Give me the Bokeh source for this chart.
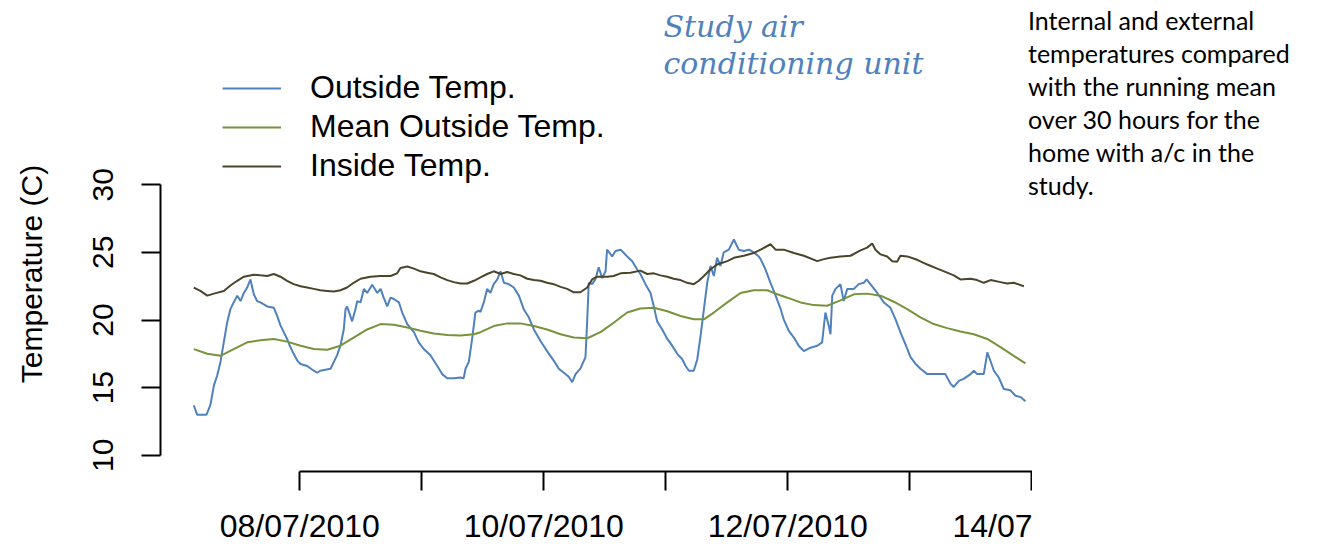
from bokeh.plotting import figure
from bokeh.models import Range1d, FixedTicker, Label, Div, Legend, LegendItem
from bokeh.layouts import row
from bokeh.embed import file_html
from bokeh.resources import INLINE

# time in hours since 07/07/2010 00:00
outside_hours = [
    3.15, 3.8, 5.65, 6.4, 7.1, 7.75, 8.4, 9.05, 9.7, 10.35,
    11.0, 11.7, 12.35, 13.0, 13.65, 14.3, 14.95, 15.6, 16.25, 17.6,
    18.9, 19.55, 20.2, 20.85, 21.5, 22.15, 22.8, 23.5, 24.15, 25.45,
    26.75, 27.4, 28.05, 30.05, 30.7, 31.35, 32.0, 32.65, 33.0, 33.3,
    33.95, 34.3, 34.95, 35.3, 35.95, 36.6, 37.25, 38.25, 39.25, 39.9,
    40.5, 41.2, 41.85, 42.5, 43.5, 44.15, 45.15, 46.45, 47.4, 48.4,
    49.7, 51.05, 52.0, 53.0, 54.3, 55.6, 56.25, 56.6, 57.25, 57.9,
    58.55, 59.2, 59.55, 60.2, 60.85, 61.5, 62.15, 62.85, 63.5, 64.15,
    65.1, 66.1, 67.1, 68.05, 69.05, 70.05, 71.35, 72.65, 73.95, 74.95,
    75.95, 76.9, 77.6, 78.25, 79.2, 80.2, 80.55, 80.85, 81.5, 82.15,
    82.8, 83.5, 84.15, 84.45, 85.45, 86.1, 87.1, 87.75, 88.4, 89.4,
    90.35, 91.0, 92.0, 93.0, 93.65, 94.3, 95.3, 96.3, 97.25, 98.25,
    99.25, 99.9, 100.55, 101.5, 102.2, 102.85, 103.5, 104.15, 104.8, 105.45,
    106.1, 106.75, 107.4, 108.4, 109.4, 110.35, 111.35, 112.35, 113.3, 114.3,
    114.65, 115.6, 116.6, 117.6, 118.6, 119.2, 120.2, 121.2, 122.15, 123.15,
    124.45, 125.8, 126.75, 127.4, 128.05, 128.4, 128.75, 129.4, 130.35, 131.0,
    131.7, 133.0, 133.95, 134.95, 135.5, 136.25, 137.6, 138.9, 140.2, 141.2,
    142.15, 143.15, 144.15, 145.15, 146.1, 147.45, 149.4, 151.0, 152.0, 152.65,
    153.65, 154.6, 155.95, 156.6, 157.25, 158.55, 159.25, 159.75, 160.55, 161.5,
    162.5, 163.8, 164.8, 165.8, 166.75,
]
outside_temp = [
    13.7, 13.0, 13.0, 13.7, 15.15, 15.9, 16.9, 18.35, 19.8, 20.8,
    21.3, 21.8, 21.4, 22.0, 22.4, 23.0, 21.9, 21.4, 21.3, 21.0,
    20.9, 20.3, 19.6, 19.1, 18.6, 18.0, 17.5, 17.0, 16.75, 16.6,
    16.25, 16.1, 16.25, 16.4, 16.9, 17.4, 18.1, 19.3, 20.8, 21.0,
    20.3, 19.9, 20.8, 21.4, 21.3, 22.3, 22.0, 22.6, 22.0, 22.3,
    21.65, 21.0, 21.65, 21.55, 21.3, 20.55, 19.7, 19.1, 18.35, 17.85,
    17.4, 16.6, 16.0, 15.7, 15.7, 15.75, 15.7, 16.4, 16.9, 18.6,
    20.55, 20.7, 20.6, 21.3, 22.3, 22.0, 22.65, 23.0, 23.6, 22.75,
    22.65, 22.4, 21.8, 20.8, 20.2, 19.3, 18.45, 17.7, 17.0, 16.4,
    16.1, 15.8, 15.4, 16.0, 16.4, 17.25, 20.05, 22.75, 22.65, 23.0,
    23.9, 23.1, 23.6, 25.2, 24.7, 25.1, 25.2, 24.95, 24.7, 24.35,
    23.75, 23.4, 22.65, 22.0, 21.0, 19.9, 19.3, 18.6, 18.1, 17.5,
    17.1, 16.6, 16.25, 16.25, 17.1, 18.85, 20.8, 22.75, 24.0, 23.25,
    24.6, 24.0, 25.0, 25.2, 25.95, 25.2, 25.1, 25.2, 25.0, 24.7,
    24.5, 23.75, 22.75, 21.8, 20.8, 20.05, 19.2, 18.7, 18.1, 17.7,
    17.95, 18.1, 18.35, 20.55, 19.6, 18.95, 21.8, 22.3, 22.65, 21.4,
    22.3, 22.3, 22.65, 22.75, 23.0, 22.65, 22.0, 21.3, 20.9, 20.05,
    19.1, 18.2, 17.25, 16.75, 16.4, 16.0, 16.0, 16.0, 15.3, 15.05,
    15.5, 15.65, 16.0, 16.25, 16.0, 16.0, 17.6, 17.1, 16.25, 15.75,
    14.9, 14.8, 14.4, 14.3, 14.0,
]

mean_hours = [
    3.15, 5.8, 8.4, 11.0, 13.65, 16.25, 18.9, 21.5, 24.15, 26.75,
    29.4, 32.0, 34.6, 37.25, 39.9, 42.5, 45.15, 47.75, 50.35, 53.0,
    55.6, 58.25, 59.55, 62.15, 64.8, 67.4, 70.05, 72.65, 75.3, 77.9,
    80.55, 83.15, 85.75, 88.4, 91.0, 93.65, 96.3, 98.9, 101.5, 103.5,
    105.45, 108.1, 110.7, 113.3, 115.95, 117.25, 119.9, 122.5, 125.1, 127.75,
    130.35, 133.0, 135.6, 138.25, 140.85, 143.5, 146.1, 148.7, 151.35, 153.95,
    156.6, 159.25, 161.85, 164.45, 166.75,
]
mean_temp = [
    17.85, 17.5, 17.35, 17.85, 18.35, 18.5, 18.6, 18.4, 18.1, 17.85,
    17.8, 18.1, 18.7, 19.3, 19.7, 19.65, 19.45, 19.2, 19.0, 18.9,
    18.85, 18.95, 19.1, 19.55, 19.75, 19.75, 19.55, 19.3, 18.95, 18.7,
    18.65, 19.1, 19.8, 20.55, 20.85, 20.9, 20.65, 20.3, 20.05, 20.05,
    20.55, 21.3, 22.0, 22.2, 22.2, 22.0, 21.65, 21.3, 21.1, 21.05,
    21.45, 21.9, 21.95, 21.8, 21.35, 20.8, 20.2, 19.7, 19.4, 19.15,
    18.95, 18.6, 18.0, 17.35, 16.8,
]

inside_hours = [
    3.15, 4.45, 5.8, 7.1, 9.05, 10.35, 11.7, 13.0, 14.95, 16.25,
    17.6, 18.9, 20.2, 21.5, 22.8, 24.15, 25.45, 26.75, 28.05, 29.4,
    30.7, 32.0, 33.3, 34.6, 35.95, 37.9, 39.9, 41.85, 43.15, 43.8,
    45.15, 46.45, 47.75, 49.05, 50.35, 51.7, 53.0, 54.3, 55.6, 56.95,
    58.25, 59.55, 60.85, 62.15, 63.5, 64.8, 66.1, 67.4, 68.75, 70.05,
    71.35, 72.65, 73.95, 75.3, 76.6, 77.9, 79.2, 80.55, 81.5, 82.5,
    84.45, 85.75, 87.1, 89.05, 91.0, 92.35, 93.65, 94.95, 96.3, 97.55,
    98.9, 100.2, 101.5, 102.5, 103.5, 104.8, 106.1, 108.1, 109.4, 111.35,
    113.3, 114.65, 116.6, 117.6, 119.2, 121.2, 123.15, 125.8, 127.1, 128.4,
    130.35, 132.35, 134.3, 135.6, 136.6, 137.25, 138.25, 139.55, 140.55, 141.5,
    142.15, 143.5, 145.45, 147.45, 149.4, 151.35, 152.65, 153.95, 155.95, 157.25,
    158.55, 159.9, 161.85, 163.15, 164.45, 166.45,
]
inside_temp = [
    22.4, 22.15, 21.8, 21.95, 22.15, 22.55, 22.9, 23.2, 23.35, 23.3,
    23.25, 23.4, 23.2, 22.9, 22.65, 22.5, 22.4, 22.3, 22.2, 22.15,
    22.1, 22.2, 22.4, 22.75, 23.05, 23.2, 23.25, 23.25, 23.45, 23.85,
    23.95, 23.8, 23.6, 23.5, 23.4, 23.15, 22.95, 22.8, 22.7, 22.7,
    22.9, 23.15, 23.4, 23.6, 23.4, 23.55, 23.4, 23.3, 23.05, 22.95,
    22.9, 22.75, 22.65, 22.45, 22.3, 22.05, 22.05, 22.4, 23.0, 23.2,
    23.2, 23.25, 23.45, 23.5, 23.65, 23.4, 23.45, 23.3, 23.2, 23.05,
    22.95, 22.75, 22.65, 22.9, 23.25, 23.75, 24.1, 24.35, 24.6, 24.75,
    24.95, 25.2, 25.6, 25.2, 25.2, 24.95, 24.75, 24.35, 24.5, 24.6,
    24.7, 24.75, 25.15, 25.35, 25.65, 25.2, 24.85, 24.7, 24.35, 24.3,
    24.75, 24.7, 24.45, 24.1, 23.8, 23.5, 23.3, 23.0, 23.05, 22.95,
    22.75, 22.95, 22.8, 22.7, 22.75, 22.5,
]

series_names = ["Outside Temp.", "Mean Outside Temp.", "Inside Temp."]
tick_hours = [24, 48, 72, 96, 120, 144, 168]
# the last date label is cut by the right edge of the picture
tick_labels = ["08/07/2010", "", "10/07/2010", "", "12/07/2010", "", "14/07"]
y_ticks = [10, 15, 20, 25, 30]
y_title = "Temperature (C)"
title_lines = ["Study air", "conditioning unit"]
note_lines = ["Internal and external", "temperatures compared",
              "with the running mean", "over 30 hours for the",
              "home with a/c in the", "study."]

BLUE = "#4F81BD"
GREEN = "#77933C"
DARK = "#4A452A"
FONT = "Liberation Sans"

TITLE_W = 60

p = figure(width=1032 - TITLE_W, height=546,
           x_range=Range1d(-3.40, 168.14), y_range=Range1d(8.80, 43.62),
           output_backend="svg", toolbar_location=None,
           min_border_left=160 - TITLE_W, min_border_right=0,
           min_border_top=0, min_border_bottom=73, margin=0)
p.outline_line_color = None
p.grid.visible = False
p.background_fill_color = "white"
p.border_fill_color = "white"

r_out = p.line(outside_hours, outside_temp, line_color=BLUE, line_width=2)
r_mean = p.line(mean_hours, mean_temp, line_color=GREEN, line_width=2)
r_in = p.line(inside_hours, inside_temp, line_color=DARK, line_width=2)

for ax in (p.xaxis[0], p.yaxis[0]):
    ax.axis_line_width = 2
    ax.axis_line_color = "black"
    ax.major_tick_line_width = 2
    ax.major_tick_line_color = "black"
    ax.major_tick_out = 19
    ax.major_tick_in = 0
    ax.minor_tick_out = 0
    ax.minor_tick_in = 0
    ax.major_label_text_font = FONT
    ax.major_label_text_color = "black"

xa = p.xaxis[0]
xa.ticker = FixedTicker(ticks=tick_hours)
xa.major_label_overrides = {h: lab for h, lab in zip(tick_hours, tick_labels)}
xa.bounds = (24, 168.14)
xa.major_label_standoff = 17
xa.major_label_text_font_size = "32px"

ya = p.yaxis[0]
ya.ticker = FixedTicker(ticks=y_ticks)
ya.bounds = (10, 30)
ya.major_label_orientation = "vertical"
ya.major_label_standoff = 28
ya.major_label_text_font_size = "30px"

legend = Legend(items=[LegendItem(label=series_names[0], renderers=[r_out]),
                       LegendItem(label=series_names[1], renderers=[r_mean]),
                       LegendItem(label=series_names[2], renderers=[r_in])],
                location=(62, 287), glyph_width=59, glyph_height=30,
                label_standoff=29, label_text_font=FONT, label_text_color="black",
                label_text_font_size="32px", spacing=2, padding=0, margin=0,
                border_line_color=None, background_fill_alpha=0)
p.add_layout(legend)

p.add_layout(Label(x=95.55, y=41.70, text=title_lines[0], text_font="DejaVu Serif",
                   text_font_style="italic", text_font_size="30px", text_color=BLUE,
                   text_baseline="alphabetic"))
p.add_layout(Label(x=95.55, y=38.98, text=title_lines[1], text_font="DejaVu Serif",
                   text_font_style="italic", text_font_size="30px", text_color=BLUE,
                   text_baseline="alphabetic"))

# y-axis title, rotated, centred where the reference places it
ytitle = Div(text=('<div style="position: relative; width: %dpx; height: 546px;">'
                   '<div style="position: absolute; left: 32px; top: 274px; '
                   'transform: translate(-50%%, -50%%) rotate(-90deg); white-space: nowrap; '
                   'font-family: \'Liberation Sans\'; font-size: 30px; line-height: 34px; '
                   'color: black;">%s</div></div>') % (TITLE_W, y_title),
             width=TITLE_W, height=546, margin=0)

note = Div(text=('<div style="font-family: Lato; font-size: 25px; line-height: 33px; '
                 'color: black; margin-left: -4px; margin-top: 4px; white-space: nowrap;">'
                 + "<br>".join(note_lines) + "</div>"),
           width=285, height=546, margin=0)

layout = row(ytitle, p, note, margin=0)
open("out.html", "w").write(file_html(layout, INLINE))
